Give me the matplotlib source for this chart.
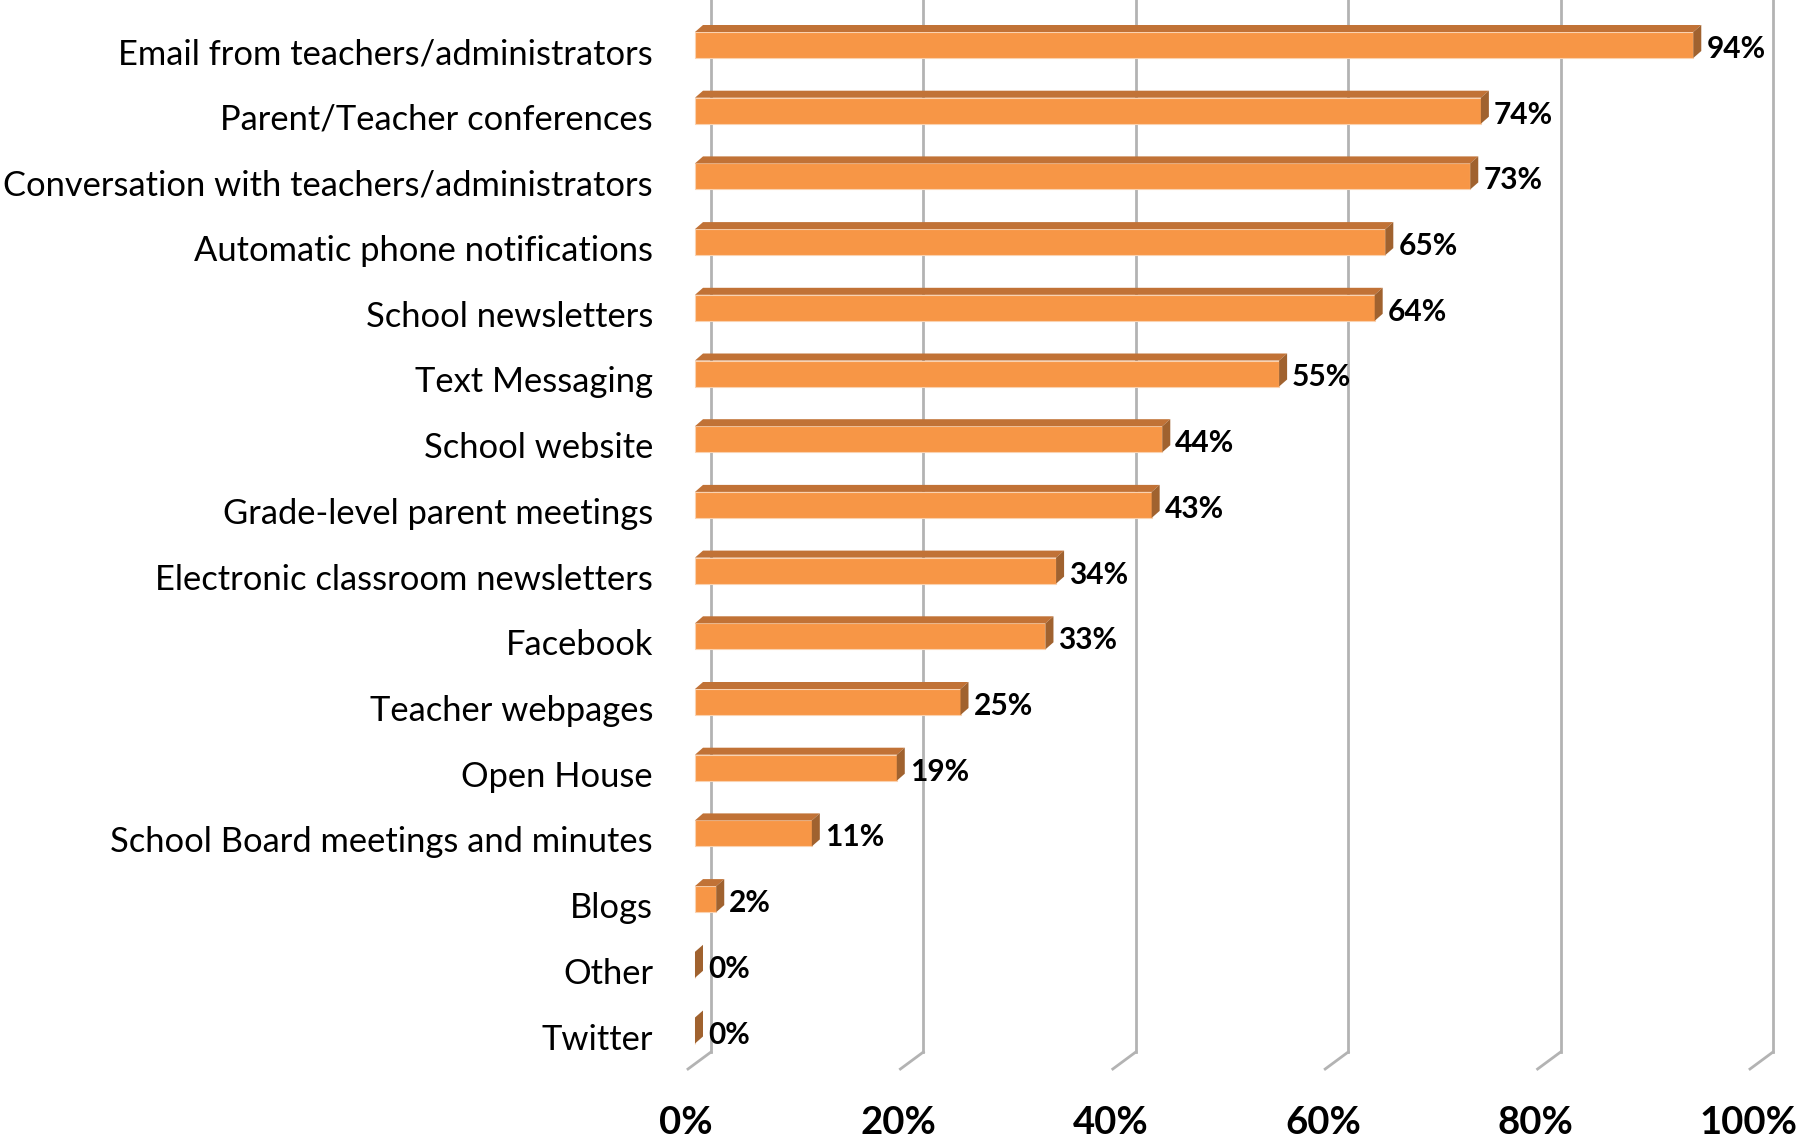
import matplotlib
matplotlib.use('Agg')
import matplotlib.pyplot as plt
from matplotlib.patches import Polygon

categories = ['Email from teachers/administrators', 'Parent/Teacher conferences',
              'Conversation with teachers/administrators', 'Automatic phone notifications',
              'School newsletters', 'Text Messaging', 'School website',
              'Grade-level parent meetings', 'Electronic classroom newsletters',
              'Facebook', 'Teacher webpages', 'Open House',
              'School Board meetings and minutes', 'Blogs', 'Other', 'Twitter']
values = [94, 74, 73, 65, 64, 55, 44, 43, 34, 33, 25, 19, 11, 2, 0, 0]
ticks = [0, 20, 40, 60, 80, 100]

front = '#F79646'
top_c = '#C17236'
side_c = '#A0622F'
grid_c = '#B3B3B3'

W, H = 1798, 1144
fig = plt.figure(figsize=(W / 100, H / 100), dpi=100)
ax = fig.add_axes([0, 0, 1, 1])

# pixel -> data mapping (front plane): 0% at x=695px, 10.62 px per %
px_per = 10.62
row = 65.7
ax.set_xlim((0 - 695) / px_per, (W - 695) / px_per)
ax.set_ylim((H - 45) / row, (0 - 45) / row)
ax.axis('off')

# 3d offsets (data units)
back_dx = 16 / px_per
floor_dx = -7 / px_per
wall_bottom = (1052 - 45) / row
floor_front = (1069 - 45) / row
top_of_fig = -45 / row
dx = 8 / px_per
dy = 7 / row
h = 26 / row

# gridlines on back wall + floor diagonals
for t in ticks:
    ax.plot([t + back_dx, t + back_dx], [top_of_fig, wall_bottom], color=grid_c, lw=2, zorder=1)
    ax.plot([t + back_dx, t + floor_dx], [wall_bottom, floor_front], color=grid_c, lw=2, zorder=1)
    ax.text(t + floor_dx - 2 / px_per, (1123 - 45) / row, '%d%%' % t, ha='center', va='center',
            fontsize=27.5, fontweight='bold', family='Lato')

ypos = list(range(len(categories)))
ax.barh(ypos, values, height=h, color=front, edgecolor='#FAD2B0', lw=0.8, zorder=3)

for y, v, c in zip(ypos, values, categories):
    y0 = y - h / 2
    y1 = y + h / 2
    if v > 0:
        ax.add_patch(Polygon([(0, y0), (v, y0), (v + dx, y0 - dy), (dx, y0 - dy)],
                             closed=True, color=top_c, lw=0, zorder=3))
    ax.add_patch(Polygon([(v, y0), (v + dx, y0 - dy), (v + dx, y1 - dy), (v, y1)],
                         closed=True, color=side_c, lw=0, zorder=3))
    ax.text(v + 13 / px_per, y + 4 / row, '%d%%' % v, ha='left', va='center',
            fontsize=21.5, fontweight='bold', family='Lato', zorder=4)
    ax.text((653 - 695) / px_per, y + 9 / row, c, ha='right', va='center',
            fontsize=24.8, family='Lato')

fig.savefig('out.png', dpi=100, facecolor='white')
